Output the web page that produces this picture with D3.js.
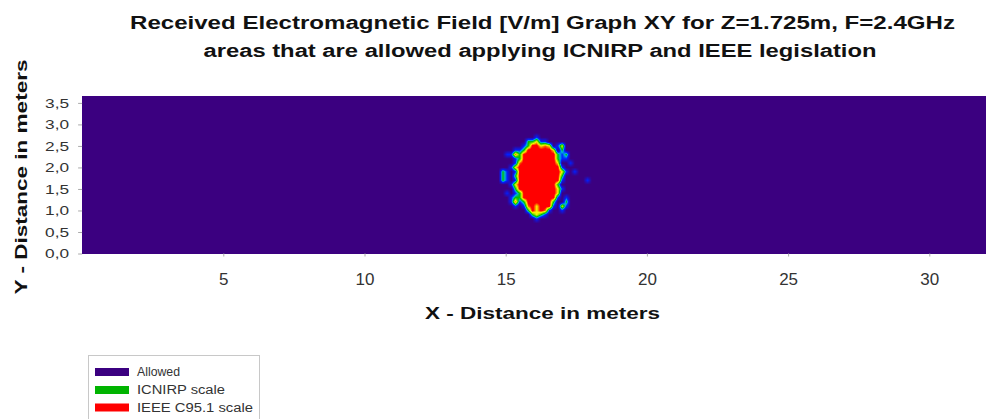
<!DOCTYPE html>
<html><head><meta charset="utf-8">
<script src="https://cdn.jsdelivr.net/npm/d3@7"></script>
<style>html,body{margin:0;padding:0;background:#fff;}svg{display:block;font-family:"Liberation Sans",Arial,sans-serif;}</style>
</head><body>
<svg id="c" width="986" height="419"></svg>
<script>
// ---- data ----
const titleLines = ["Received Electromagnetic Field [V/m] Graph XY for Z=1.725m, F=2.4GHz",
                    "areas that are allowed applying ICNIRP and IEEE legislation"];
const xTitle = "X - Distance in meters";
const yTitle = "Y - Distance in meters";
const xDomain = [0, 32];
const yDomain = [0, 3.64];
const xTicks = [5, 10, 15, 20, 25, 30];
const yTicks = [0, 0.5, 1, 1.5, 2, 2.5, 3, 3.5];
const legendLabels = ["Allowed", "ICNIRP scale", "IEEE C95.1 scale"];
const legendColors = ["#3b0080", "#00b400", "#ff0000"];
// field level grid (0 = allowed ... 4 = above IEEE limit)
const gridX = d3.range(25).map(i => +(14.6 + 0.15 * i).toFixed(2));   // column centres (m)
const gridY = d3.range(22).map(j => +(2.8 - 0.1 * j).toFixed(2));     // row centres (m), top to bottom
const fieldLevels = [
 [0,0,0,0,0,0,0,0,0,0,0,0,0,0,0,0,0,0,0,0,0,0,0,0,0],
 [0,0,0,0,0,0,0,0,0,0,1,0,0,0,0,0,0,0,0,0,0,0,0,0,0],
 [0,0,0,0,0,0,0,0,2,2,3,1,1,0,0,0,0,0,0,0,0,0,0,0,0],
 [0,0,0,0,0,0,0,1,2,4,4,3,3.5,3,0,1,3,0,0,0,0,0,0,0,0],
 [0,0,0,0,0,1,1,2,4,4,4,4,4,4,3,0,2,0,0,0,0,0,0,0,0],
 [0,0,0,1,1,3.5,2,4,4,4,4,4,4,4,4,2,1,2,0,0,0,0,0,0,0],
 [0,0,0,0,0,1,2,4,4,4,4,4,4,4,4,2,1,1,0,0,0,0,0,0,0],
 [0,0,0,0,0,1,3.5,4,4,4,4,4,4,4,4,3,0,0,1,0,0,0,0,0,0],
 [0,0,0,0,1,3,4,4,4,4,4,4,4,4,4,4,1,0,0,0,0,0,0,0,0],
 [0,0,2,1,0,1,4,4,4,4,4,4,4,4,4,4,3,1,0,1,0,0,0,0,0],
 [0,0,2,1,0,2,4,4,4,4,4,4,4,4,4,4,2,0,0,0,0,0,0,0,0],
 [0,0,2,1,0,1,4,4,4,4,4,4,4,4,4,4,1,0,0,0,0,0,1,0,0],
 [0,0,0,0,1,3,4,4,4,4,4,4,4,4,4,2,0,0,0,0,0,0,0,0,0],
 [0,0,0,0,0,2,4,4,4,4,4,4,4,4,4,3,1,0,0,0,0,0,0,0,0],
 [0,0,0,1,0,1,2,4,4,4,4,4,4,4,4,3,0,0,0,0,0,0,0,0,0],
 [0,0,0,0,1,2,2,4,4,4,4,4,4,4,4,1,0,1,0,0,0,0,0,0,0],
 [0,0,0,0,1,3.5,1,2,4,4,4,4,4,4,2,0,0,2,0,0,0,0,0,0,0],
 [0,0,0,0,0,1,0,1,3.5,4,3,4,4,4,1,0,3,1,0,0,0,0,0,0,0],
 [0,0,0,0,0,0,0,0,2,4,3,4,3.5,1,0,0,1,0,0,0,0,0,0,0,0],
 [0,0,0,0,0,0,0,0,0,2,3,2,1,0,0,0,0,0,0,0,0,0,0,0,0],
 [0,0,0,0,0,0,0,0,0,0,1,0,0,0,0,0,0,0,0,0,0,0,0,0,0],
 [0,0,0,0,0,0,0,0,0,0,0,0,0,0,0,0,0,0,0,0,0,0,0,0,0]
];
const levelStops = [0, 1, 1.5, 2, 3, 3.8];
const levelColors = ["#3b0080", "#0020ff", "#00b0e0", "#00c000", "#f8f800", "#ff0000"];

// ---- chart ----
const svg = d3.select("#c");
const x = d3.scaleLinear().domain(xDomain).range([82.1, 82.1 + 32 * 28.24]);
const y = d3.scaleLinear().domain(yDomain).range([253.5, 253.5 - 3.64 * 43.03]);
const color = d3.scaleLinear().domain(levelStops).range(levelColors).clamp(true);

// background (allowed)
svg.append("rect")
  .attr("x", x(xDomain[0])).attr("y", y(yDomain[1]))
  .attr("width", x(xDomain[1]) - x(xDomain[0]))
  .attr("height", y(yDomain[0]) - y(yDomain[1]))
  .attr("fill", legendColors[0]);

// heat map rendered via bilinear interpolation of the level grid
(function(){
  const x0 = Math.floor(x(xDomain[0])), x1 = Math.ceil(x(xDomain[1]));
  const y0 = Math.floor(y(yDomain[1])), y1 = Math.ceil(y(yDomain[0]));
  const w = x1 - x0, h = y1 - y0;
  const cv = document.createElement("canvas");
  cv.width = w; cv.height = h;
  const ctx = cv.getContext("2d");
  const img = ctx.createImageData(w, h);
  const dx = gridX[1] - gridX[0], dy = gridY[0] - gridY[1];
  const nc = gridX.length, nr = gridY.length;
  const val = (i, j) => (i < 0 || j < 0 || i >= nc || j >= nr) ? 0 : fieldLevels[j][i];
  const lut = d3.range(0, 501).map(k => d3.rgb(color(k / 100)));
  for (let py = 0; py < h; py++) {
    const yv = y.invert(y0 + py + 0.5);
    const fj = (gridY[0] - yv) / dy;
    for (let px = 0; px < w; px++) {
      const xv = x.invert(x0 + px + 0.5);
      const fi = (xv - gridX[0]) / dx;
      let v = 0;
      if (fi > -1 && fi < nc && fj > -1 && fj < nr) {
        const i = Math.floor(fi), j = Math.floor(fj);
        const tx = fi - i, ty = fj - j;
        v = val(i, j) * (1 - tx) * (1 - ty) + val(i + 1, j) * tx * (1 - ty) +
            val(i, j + 1) * (1 - tx) * ty + val(i + 1, j + 1) * tx * ty;
      }
      const c = lut[Math.max(0, Math.min(500, Math.round(v * 100)))];
      const o = (py * w + px) * 4;
      img.data[o] = c.r; img.data[o + 1] = c.g; img.data[o + 2] = c.b; img.data[o + 3] = 255;
    }
  }
  ctx.putImageData(img, 0, 0);
  svg.append("image").attr("x", x0).attr("y", y0).attr("width", w).attr("height", h)
    .attr("preserveAspectRatio", "none").attr("href", cv.toDataURL());
})();

// axes
const gx = svg.append("g").attr("transform", `translate(0,${y(0)})`)
  .call(d3.axisBottom(x).tickValues(xTicks).tickSize(3).tickPadding(16).tickSizeOuter(0));
gx.select(".domain").remove();
gx.selectAll("line").attr("stroke", "#aaa");
gx.selectAll("text").attr("font-size", 17).attr("fill", "#333").attr("font-family", null);

const fmt = d => d3.format(".1f")(d).replace(".", ",");
const gy = svg.append("g").attr("transform", `translate(${x(0)},0)`)
  .call(d3.axisLeft(y).tickValues(yTicks).tickFormat(fmt).tickSize(4).tickPadding(9).tickSizeOuter(0));
gy.select(".domain").remove();
gy.selectAll("line").attr("stroke", "#aaa");
gy.selectAll("text").attr("font-size", 13).attr("fill", "#333").attr("font-family", null)
  .attr("textLength", 24).attr("lengthAdjust", "spacingAndGlyphs");

// titles
const tl = [[542.5, 29, 825], [540, 57, 673]];
titleLines.forEach((t, i) => {
  svg.append("text").attr("x", tl[i][0]).attr("y", tl[i][1]).attr("text-anchor", "middle")
    .attr("font-size", 18).attr("font-weight", "bold").attr("fill", "#111")
    .attr("textLength", tl[i][2]).attr("lengthAdjust", "spacingAndGlyphs").text(t);
});
svg.append("text").attr("x", 542.5).attr("y", 319).attr("text-anchor", "middle")
  .attr("font-size", 17).attr("font-weight", "bold").attr("fill", "#111")
  .attr("textLength", 235).attr("lengthAdjust", "spacingAndGlyphs").text(xTitle);
svg.append("text").attr("transform", "translate(27,177) rotate(-90)").attr("text-anchor", "middle")
  .attr("font-size", 17).attr("font-weight", "bold").attr("fill", "#111")
  .attr("textLength", 235).attr("lengthAdjust", "spacingAndGlyphs").text(yTitle);

// legend
svg.append("rect").attr("x", 88.5).attr("y", 355.5).attr("width", 171).attr("height", 80)
  .attr("fill", "#fff").attr("stroke", "#c8c8c8");
const legRows = [372, 390, 407.5];
const legLen = [43, 88, 116];
legendLabels.forEach((lab, i) => {
  svg.append("rect").attr("x", 95).attr("y", legRows[i] - 4).attr("width", 34).attr("height", 8)
    .attr("fill", legendColors[i]);
  svg.append("text").attr("x", 137).attr("y", legRows[i] + 4.2).attr("font-size", 12).attr("fill", "#333")
    .attr("textLength", legLen[i]).attr("lengthAdjust", "spacingAndGlyphs").text(lab);
});
</script>
</body></html>
